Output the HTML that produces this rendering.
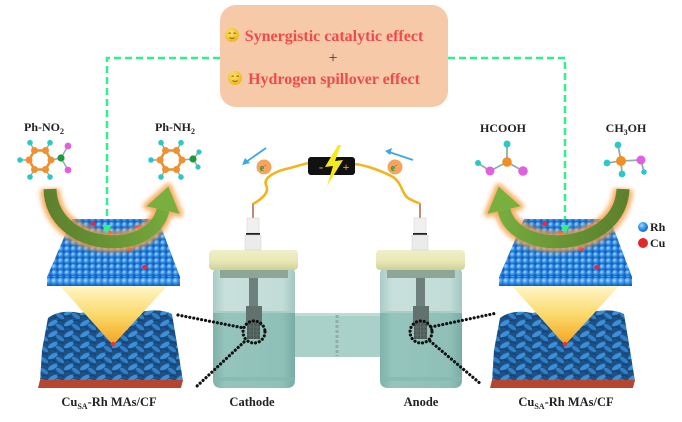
<!DOCTYPE html>
<html><head><meta charset="utf-8"><style>html,body{margin:0;padding:0;background:#fff}svg{display:block}</style></head>
<body>
<svg width="682" height="422" viewBox="0 0 682 422" xmlns="http://www.w3.org/2000/svg" font-family="'Liberation Serif', serif" font-weight="bold">
<defs>
  <radialGradient id="ball" cx="0.38" cy="0.35" r="0.7"><stop offset="0" stop-color="#a8dcff"/><stop offset="0.45" stop-color="#3d9bf0"/><stop offset="1" stop-color="#1762c2"/></radialGradient>
  <pattern id="sph" width="6.4" height="6" patternUnits="userSpaceOnUse"><rect width="6.4" height="6" fill="#1a5fb8"/><circle cx="3.2" cy="3" r="3.1" fill="url(#ball)"/></pattern>
  <pattern id="sph2" width="6.4" height="9" patternUnits="userSpaceOnUse" y="277"><rect width="6.4" height="9" fill="#1a5fb8"/><circle cx="3.2" cy="4.5" r="4" fill="url(#ball)"/></pattern>
  <linearGradient id="tri" x1="0" y1="0" x2="0" y2="1"><stop offset="0" stop-color="#fff7c8"/><stop offset="0.5" stop-color="#fbd86a"/><stop offset="1" stop-color="#f4a21c"/></linearGradient>
  <pattern id="foam" width="16" height="11" patternUnits="userSpaceOnUse">
    <rect width="16" height="11" fill="#1e5088"/>
    <ellipse cx="5" cy="4" rx="5.5" ry="2.3" fill="#3b90d8" transform="rotate(-30 5 4)"/>
    <ellipse cx="12" cy="8" rx="4.8" ry="2" fill="#2f80c6" transform="rotate(35 12 8)"/>
    <path d="M0 9 Q4 6 8 10" stroke="#143d6a" fill="none" stroke-width="1"/>
    <path d="M9 2 Q12 0 16 3" stroke="#163f6c" fill="none" stroke-width="1"/>
  </pattern>
  <filter id="glow" x="-30%" y="-30%" width="160%" height="160%"><feGaussianBlur stdDeviation="2.5"/></filter>
  <filter id="soft" x="-30%" y="-30%" width="160%" height="160%"><feGaussianBlur stdDeviation="4"/></filter>
  <linearGradient id="arrL" gradientUnits="userSpaceOnUse" x1="45" y1="0" x2="185" y2="0"><stop offset="0" stop-color="#4c7a28"/><stop offset="1" stop-color="#6db23c"/></linearGradient>
  <linearGradient id="arrR" gradientUnits="userSpaceOnUse" x1="630" y1="0" x2="488" y2="0"><stop offset="0" stop-color="#4c7a28"/><stop offset="1" stop-color="#6db23c"/></linearGradient>
  <radialGradient id="emo" cx="0.4" cy="0.35" r="0.7"><stop offset="0" stop-color="#ffe36a"/><stop offset="1" stop-color="#eab512"/></radialGradient>
  <linearGradient id="lid" x1="0" y1="0" x2="0" y2="1"><stop offset="0" stop-color="#f0f0c8"/><stop offset="0.6" stop-color="#e6e6b4"/><stop offset="1" stop-color="#cfcf98"/></linearGradient>
  <linearGradient id="jarU" x1="0" y1="0" x2="1" y2="0"><stop offset="0" stop-color="#a9cbc6"/><stop offset="0.15" stop-color="#c8e0dc"/><stop offset="0.85" stop-color="#c2dcd8"/><stop offset="1" stop-color="#a3c6c1"/></linearGradient>
  <linearGradient id="jarL" x1="0" y1="0" x2="1" y2="0"><stop offset="0" stop-color="#7fb2aa"/><stop offset="0.15" stop-color="#95c4bc"/><stop offset="0.85" stop-color="#8fc0b8"/><stop offset="1" stop-color="#78aca4"/></linearGradient>
</defs>

<!-- top box -->
<rect x="220" y="5" width="228" height="102" rx="16" fill="#f6c9a9"/>
<g>
  <circle cx="232" cy="35" r="7" fill="url(#emo)"/>
  <path d="M228.5 33.5 q1.2 -1 2.4 0 M233.5 33.5 q1.2 -1 2.4 0" stroke="#8a5a10" stroke-width="0.9" fill="none"/>
  <path d="M229.5 37.5 q2.5 2 5 0" stroke="#8a5a10" stroke-width="0.9" fill="none"/>
  <circle cx="235" cy="78" r="7" fill="url(#emo)"/>
  <path d="M231.5 76.5 q1.2 -1 2.4 0 M236.5 76.5 q1.2 -1 2.4 0" stroke="#8a5a10" stroke-width="0.9" fill="none"/>
  <path d="M232.5 80.5 q2.5 2 5 0" stroke="#8a5a10" stroke-width="0.9" fill="none"/>
</g>
<text x="334" y="41" font-size="16" fill="#f04a4a" text-anchor="middle">Synergistic catalytic effect</text>
<text x="333" y="63" font-size="16" fill="#333" font-weight="normal" text-anchor="middle">+</text>
<text x="334" y="84" font-size="16" fill="#f04a4a" text-anchor="middle">Hydrogen spillover effect</text>

<!-- green dashed lines -->
<path d="M220 58 H107 V226 M448 58 H565 V226" stroke="#2ff08c" stroke-width="2.5" fill="none" stroke-dasharray="7 4"/>

<!-- catalyst assembly -->
<g id="cat">
  <path d="M48 318 Q60 309 80 313 Q110 307 140 312 Q160 308 172 314 L178 350 L183 381 L40 381 L42 350 Z" fill="url(#foam)"/>
  <path d="M40 380 L183 380 L181 388 L38 388 Z" fill="#b6452f"/>
  <polygon points="60,286 167,286 113,345" fill="url(#tri)"/>
  <circle cx="113" cy="344" r="2.2" fill="#f03030"/>
  <polygon points="72,219 158,219 180,277 47,277" fill="url(#sph)"/>
  <rect x="47" y="277" width="133" height="9" fill="url(#sph2)"/>
  <path d="M70 222 C80 248 140 252 158 222" stroke="#555" stroke-width="12" fill="none" opacity="0.35" filter="url(#soft)"/>
  <g fill="#e8283c">
    <ellipse cx="93" cy="224" rx="3" ry="2"/>
    <ellipse cx="139" cy="227" rx="3" ry="2"/>
    <ellipse cx="109" cy="233" rx="3" ry="2"/>
    <ellipse cx="129" cy="249" rx="3" ry="2"/>
    <ellipse cx="145" cy="267" rx="3" ry="2"/>
  </g>
</g>
<use href="#cat" transform="translate(452,0)"/>

<!-- left green arrow -->
<g>
  <g filter="url(#glow)" opacity="0.85">
    <path d="M50 189 C52 252 152 258 163 210" stroke="#f7a048" stroke-width="20" fill="none"/>
    <polygon points="168.4,186.6 179.6,213.8 146.4,206.2" fill="#f7a048" stroke="#f7a048" stroke-width="7" stroke-linejoin="round"/>
  </g>
  <g opacity="0.9">
    <path d="M50 189 C52 252 152 258 163 210" stroke="url(#arrL)" stroke-width="13" fill="none"/>
    <polygon points="168.4,186.6 179.6,213.8 146.4,206.2" fill="#6cb03c"/>
  </g>
</g>
<!-- right green arrow -->
<g>
  <g filter="url(#glow)" opacity="0.85">
    <path d="M623 189 C620 252 515 258 504 210" stroke="#f7a048" stroke-width="20" fill="none"/>
    <polygon points="498.7,186.7 487.5,213.7 520.5,206.3" fill="#f7a048" stroke="#f7a048" stroke-width="7" stroke-linejoin="round"/>
  </g>
  <g opacity="0.9">
    <path d="M623 189 C620 252 515 258 504 210" stroke="url(#arrR)" stroke-width="13" fill="none"/>
    <polygon points="498.7,186.7 487.5,213.7 520.5,206.3" fill="#6cb03c"/>
  </g>
</g>

<!-- green dashed arrowheads -->
<polygon points="102,225 112,225 107,234" fill="#2ff08c"/>
<polygon points="560,225 570,225 565,234" fill="#2ff08c"/>

<!-- legend -->
<circle cx="643" cy="227" r="5" fill="url(#ball)"/>
<text x="650" y="231" font-size="12" fill="#222">Rh</text>
<circle cx="643" cy="243" r="5" fill="#e02a2a"/>
<text x="650" y="247" font-size="12" fill="#222">Cu</text>

<!-- Ph-NO2 -->
<text x="44" y="131" font-size="12" fill="#222" text-anchor="middle">Ph-NO<tspan font-size="8" dy="3">2</tspan></text>
<g>
  <g stroke="#e8902a" stroke-width="2.5" fill="none">
    <polygon points="51,160 45.5,150.5 34.5,150.5 29,160 34.5,169.5 45.5,169.5"/>
  </g>
  <g stroke="#9aa" stroke-width="1.5">
    <line x1="45.5" y1="150.5" x2="50" y2="142.7"/><line x1="34.5" y1="150.5" x2="30" y2="142.7"/>
    <line x1="29" y1="160" x2="20" y2="160"/><line x1="34.5" y1="169.5" x2="30" y2="177"/>
    <line x1="45.5" y1="169.5" x2="50" y2="177"/>
    <line x1="51" y1="160" x2="61" y2="158"/><line x1="61" y1="158" x2="68" y2="146"/><line x1="61" y1="158" x2="68" y2="170"/>
  </g>
  <g fill="#f09030"><circle cx="51" cy="160" r="3.5"/><circle cx="45.5" cy="150.5" r="3.5"/><circle cx="34.5" cy="150.5" r="3.5"/><circle cx="29" cy="160" r="3.5"/><circle cx="34.5" cy="169.5" r="3.5"/><circle cx="45.5" cy="169.5" r="3.5"/></g>
  <g fill="#2cc8c8"><circle cx="50" cy="142.7" r="2.8"/><circle cx="30" cy="142.7" r="2.8"/><circle cx="20" cy="160" r="2.8"/><circle cx="30" cy="177" r="2.8"/><circle cx="50" cy="177" r="2.8"/></g>
  <circle cx="61" cy="158" r="3.6" fill="#1e9a3a"/>
  <circle cx="68" cy="146" r="3.4" fill="#e060e0"/><circle cx="68" cy="170" r="3.4" fill="#e060e0"/>
</g>
<!-- Ph-NH2 -->
<text x="175" y="131" font-size="12" fill="#222" text-anchor="middle">Ph-NH<tspan font-size="8" dy="3">2</tspan></text>
<g transform="translate(131,0)">
  <g stroke="#e8902a" stroke-width="2.5" fill="none">
    <polygon points="51,160 45.5,150.5 34.5,150.5 29,160 34.5,169.5 45.5,169.5"/>
  </g>
  <g stroke="#9aa" stroke-width="1.5">
    <line x1="45.5" y1="150.5" x2="50" y2="142.7"/><line x1="34.5" y1="150.5" x2="30" y2="142.7"/>
    <line x1="29" y1="160" x2="20" y2="160"/><line x1="34.5" y1="169.5" x2="30" y2="177"/>
    <line x1="45.5" y1="169.5" x2="50" y2="177"/>
    <line x1="51" y1="160" x2="62" y2="159"/><line x1="62" y1="159" x2="68" y2="152"/><line x1="62" y1="159" x2="67" y2="167"/>
  </g>
  <g fill="#f09030"><circle cx="51" cy="160" r="3.5"/><circle cx="45.5" cy="150.5" r="3.5"/><circle cx="34.5" cy="150.5" r="3.5"/><circle cx="29" cy="160" r="3.5"/><circle cx="34.5" cy="169.5" r="3.5"/><circle cx="45.5" cy="169.5" r="3.5"/></g>
  <g fill="#2cc8c8"><circle cx="50" cy="142.7" r="2.8"/><circle cx="30" cy="142.7" r="2.8"/><circle cx="20" cy="160" r="2.8"/><circle cx="30" cy="177" r="2.8"/><circle cx="50" cy="177" r="2.8"/><circle cx="68" cy="152" r="2.6"/><circle cx="67" cy="167" r="2.6"/></g>
  <circle cx="62" cy="159" r="3.6" fill="#1e9a3a"/>
</g>

<!-- HCOOH -->
<text x="503" y="132" font-size="12" fill="#222" text-anchor="middle">HCOOH</text>
<g stroke="#9aa" stroke-width="1.8">
  <line x1="507" y1="162" x2="507" y2="144"/><line x1="507" y1="162" x2="490" y2="171"/>
  <line x1="490" y1="171" x2="478" y2="163"/><line x1="507" y1="162" x2="523" y2="171"/>
</g>
<circle cx="507" cy="144" r="3.5" fill="#2cc8c8"/><circle cx="478" cy="163" r="3" fill="#2cc8c8"/>
<circle cx="507" cy="162" r="4.8" fill="#f09020"/>
<circle cx="490" cy="171" r="4.5" fill="#e060e0"/><circle cx="523" cy="171" r="4.8" fill="#e060e0"/>
<!-- CH3OH -->
<text x="626" y="132" font-size="12" fill="#222" text-anchor="middle">CH<tspan font-size="8" dy="3">3</tspan><tspan dy="-3">OH</tspan></text>
<g stroke="#9aa" stroke-width="1.8">
  <line x1="621" y1="161" x2="618" y2="145"/><line x1="621" y1="161" x2="607" y2="163"/>
  <line x1="621" y1="161" x2="622" y2="174"/><line x1="621" y1="161" x2="641" y2="160"/><line x1="641" y1="160" x2="644" y2="172"/>
</g>
<circle cx="618" cy="145" r="3.4" fill="#2cc8c8"/><circle cx="607" cy="163" r="3.4" fill="#2cc8c8"/><circle cx="622" cy="174" r="3.4" fill="#2cc8c8"/><circle cx="644" cy="172" r="2.8" fill="#2cc8c8"/>
<circle cx="621" cy="161" r="5" fill="#f09020"/>
<circle cx="641" cy="160" r="4.5" fill="#e060e0"/>

<!-- bridge -->
<rect x="288" y="313" width="97" height="44" fill="#a9d1ca"/>
<rect x="288" y="313" width="97" height="3" fill="#bcdcd6"/>
<line x1="337" y1="315" x2="337" y2="356" stroke="#90aea8" stroke-width="3" stroke-dasharray="3 2"/>

<!-- cell -->
<g id="cell">
  <rect x="213" y="266" width="82" height="122" rx="8" fill="url(#jarU)"/>
  <path d="M213 312 H295 V380 Q295 388 287 388 H221 Q213 388 213 380 Z" fill="url(#jarL)"/>
  <rect x="213" y="311" width="82" height="2" fill="#a6cdc6"/>
  <rect x="213" y="377" width="82" height="4" fill="#85b8b0" opacity="0.7"/>
  <rect x="220" y="270" width="68" height="8" fill="#8ea695"/>
  <rect x="209" y="250" width="89" height="20" rx="4" fill="url(#lid)"/>
  <rect x="249" y="278" width="9" height="29" fill="#6e807c"/>
  <rect x="246" y="306" width="16" height="20" fill="#62736f"/>
  <rect x="247" y="323" width="13" height="16" fill="#4c5a58"/>
  <path d="M250 323 V339 M253.5 323 V339 M257 323 V339 M247 327 H260 M247 331 H260 M247 335 H260" stroke="#6a7876" stroke-width="0.6"/>
  <ellipse cx="254" cy="332" rx="11" ry="11" fill="none" stroke="#111" stroke-width="3.2" stroke-dasharray="0.01 3.9" stroke-linecap="round"/>
  <line x1="253" y1="203" x2="253" y2="218" stroke="#b07050" stroke-width="1.6"/>
  <rect x="247" y="218" width="12" height="15" fill="#f0f0f0" stroke="#cfcfcf" stroke-width="0.5"/>
  <rect x="246" y="233" width="14" height="2" fill="#222"/>
  <rect x="245" y="235" width="16" height="15" fill="#ebebeb" stroke="#cfcfcf" stroke-width="0.5"/>
</g>
<use href="#cell" transform="translate(167,0)"/>

<!-- dotted connectors -->
<g stroke="#111" stroke-width="3.2" stroke-dasharray="0.01 4" stroke-linecap="round" fill="none">
  <line x1="178" y1="315" x2="244" y2="328"/>
  <line x1="244" y1="342" x2="196" y2="387"/>
  <line x1="431" y1="327" x2="497" y2="313"/>
  <line x1="430" y1="341" x2="482" y2="385"/>
</g>

<!-- wires -->
<path d="M253 204 C262 199 270 192 266 185 C263 178 275 171 290 168 C298 166 303 164 309 163" stroke="#f3b51e" stroke-width="2.6" fill="none"/>
<path d="M354 164 C365 165 380 170 393 177 C402 183 402 194 408 198 C414 202 420 203 420 204" stroke="#f3b51e" stroke-width="2.6" fill="none"/>
<!-- battery -->
<rect x="308" y="157" width="47" height="18" rx="3" fill="#111"/>
<text x="321" y="171" font-size="13" fill="#e8a030" text-anchor="middle">-</text>
<text x="346" y="171" font-size="12" fill="#e8a030" text-anchor="middle">+</text>
<polygon points="338,145 325,167 333,166 327,186 343,160 335,161 341,145" fill="#f7ea1c"/>

<!-- electrons -->
<circle cx="264" cy="167" r="7.5" fill="#f4a45e"/>
<text x="263" y="171" font-size="10" fill="#3a8a30" text-anchor="middle">e<tspan font-size="6" dy="-4">-</tspan></text>
<circle cx="395" cy="167" r="7.5" fill="#f4a45e"/>
<text x="394" y="171" font-size="10" fill="#3a8a30" text-anchor="middle">e<tspan font-size="6" dy="-4">-</tspan></text>
<!-- blue arrows -->
<line x1="266" y1="148" x2="246" y2="162" stroke="#3aa8e8" stroke-width="1.8"/>
<polygon points="242,165 245,158 250,163" fill="#3aa8e8"/>
<line x1="413" y1="160" x2="389" y2="152" stroke="#3aa8e8" stroke-width="1.8"/>
<polygon points="385,151 392,148 390,155" fill="#3aa8e8"/>

<!-- bottom labels -->
<text x="109" y="406" font-size="12.5" fill="#222" text-anchor="middle">Cu<tspan font-size="8" dy="3">SA</tspan><tspan dy="-3">-Rh MAs/CF</tspan></text>
<text x="252" y="406" font-size="12.5" fill="#222" text-anchor="middle">Cathode</text>
<text x="421" y="406" font-size="12.5" fill="#222" text-anchor="middle">Anode</text>
<text x="566" y="406" font-size="12.5" fill="#222" text-anchor="middle">Cu<tspan font-size="8" dy="3">SA</tspan><tspan dy="-3">-Rh MAs/CF</tspan></text>
</svg>
</body></html>
